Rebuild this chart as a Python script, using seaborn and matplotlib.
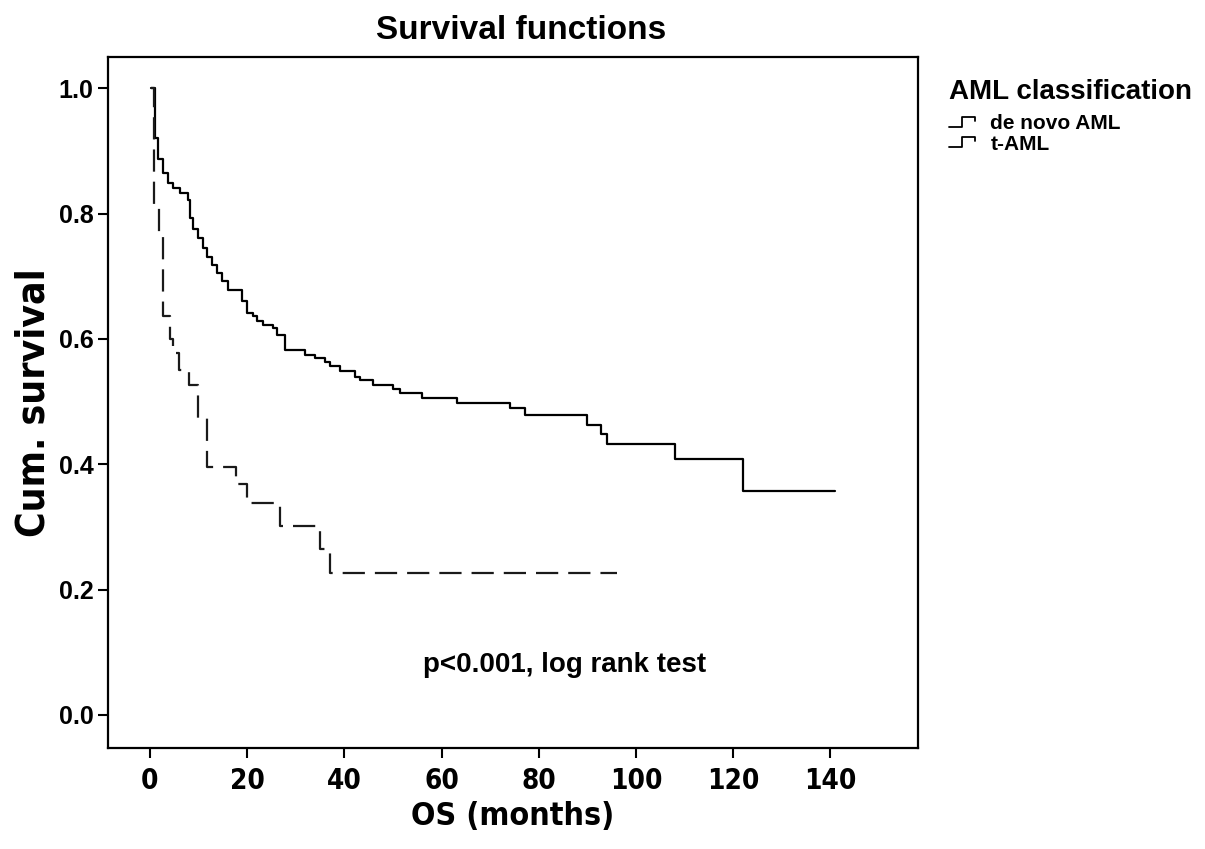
import numpy as np
import pandas as pd
import matplotlib
matplotlib.use("Agg")
import matplotlib.pyplot as plt
import seaborn as sns
from matplotlib.lines import Line2D
from matplotlib.legend_handler import HandlerBase
from matplotlib.font_manager import FontProperties

# ---- data ----
denovo_time = [0.3, 1.0, 1.7, 2.7, 3.8, 4.8, 6.2, 7.9, 8.2, 8.9, 9.9, 10.9, 11.7, 12.8,
               13.8, 14.8, 16.1, 18.9, 19.9, 21.2, 22.0, 23.3, 25.4, 26.1, 27.8, 31.9,
               34.0, 36.0, 37.0, 39.1, 42.2, 43.2, 46.0, 50.0, 51.4, 55.9, 63.1, 74.1,
               77.2, 89.9, 92.9, 94.0, 108.0, 122.1, 140.9]
denovo_surv = [1.0, 0.92, 0.887, 0.865, 0.849, 0.841, 0.833, 0.822, 0.793, 0.775, 0.761,
               0.745, 0.730, 0.718, 0.705, 0.693, 0.678, 0.660, 0.641, 0.636, 0.628, 0.622,
               0.617, 0.607, 0.582, 0.574, 0.569, 0.5625, 0.556, 0.549, 0.540, 0.534,
               0.527, 0.520, 0.513, 0.506, 0.498, 0.489, 0.478, 0.463, 0.449, 0.433,
               0.409, 0.357, 0.357]

taml_time = [0.3, 0.8, 1.9, 2.7, 4.1, 4.8, 6.0, 8.1, 9.9, 11.7, 17.8, 19.9, 26.7,
             35.0, 37.0, 96.0]
taml_surv = [1.0, 0.815, 0.769, 0.636, 0.600, 0.577, 0.550, 0.527, 0.473, 0.396,
             0.369, 0.338, 0.302, 0.264, 0.227, 0.227]

groups = ["de novo AML", "t-AML"]
x_ticks = [0, 20, 40, 60, 80, 100, 120, 140]
y_ticks = [0.0, 0.2, 0.4, 0.6, 0.8, 1.0]

df_denovo = pd.DataFrame({"OS": denovo_time, "surv": denovo_surv})
df_taml = pd.DataFrame({"OS": taml_time, "surv": taml_surv})

# ---- figure ----
sns.set_style("white")
plt.rcParams["font.family"] = ["Liberation Sans", "DejaVu Sans"]
for k in ["text.color", "axes.labelcolor", "xtick.color", "ytick.color"]:
    plt.rcParams[k] = "black"

fig = plt.figure(figsize=(12.05, 8.49), dpi=100)
ax = fig.add_axes([108 / 1205, 101 / 849, (918 - 108) / 1205, (792 - 101) / 849])

sns.lineplot(data=df_denovo, x="OS", y="surv", ax=ax, drawstyle="steps-post",
             color="black", linewidth=1.6, estimator=None, sort=False)
sns.lineplot(data=df_taml, x="OS", y="surv", ax=ax, drawstyle="steps-post",
             color="#1a1a1a", linewidth=1.6, estimator=None, sort=False)
ax.lines[1].set_dashes((10, 4.5))

ax.set_xlim(-8.6, 158)
ax.set_ylim(-0.053, 1.05)
ax.set_xticks(x_ticks)
ax.set_yticks(y_ticks)

narrow_tick = FontProperties(family="DejaVu Sans", stretch="condensed", weight="bold", size=20)
narrow_xlab = FontProperties(family="DejaVu Sans", stretch="condensed", weight="bold", size=23)
narrow_ylab = FontProperties(family="DejaVu Sans", stretch="condensed", weight="bold", size=28)

ax.set_yticklabels([f"{v:.1f}" for v in y_ticks], fontsize=18, fontweight="bold")
ax.set_xticklabels([str(v) for v in x_ticks], fontproperties=narrow_tick)
ax.tick_params(axis="both", direction="out", length=7, width=1.5, colors="black",
               left=True, bottom=True)
ax.tick_params(axis="x", pad=7)
for s in ax.spines.values():
    s.set_visible(True)
    s.set_color("black")
    s.set_linewidth(1.6)

ax.set_xlabel("OS (months)", fontproperties=narrow_xlab, labelpad=4)
ax.set_ylabel("Cum. survival", fontproperties=narrow_ylab, labelpad=4)
ax.set_title("Survival functions", fontsize=24, fontweight="bold", pad=13, x=0.51)

ax.text(85.4, 0.08, "p<0.001, log rank test", fontsize=20, fontweight="bold",
        ha="center", va="center")


class StepHandler(HandlerBase):
    def create_artists(self, legend, orig_handle, xdescent, ydescent, width, height,
                       fontsize, trans):
        h = height
        xs = [0, width * 0.4, width * 0.4, width * 0.8, width * 0.8]
        ys = [h * 0.15, h * 0.15, h * 0.85, h * 0.85, h * 0.55]
        ln = Line2D(np.array(xs) - xdescent, np.array(ys) - ydescent,
                    color="black", linewidth=1.3, transform=trans)
        return [ln]


h1 = Line2D([], [], color="black")
h2 = Line2D([], [], color="black")
leg = fig.legend([h1, h2], groups, loc="upper left",
                 bbox_to_anchor=(930 / 1205, 1 - 60 / 849), frameon=False,
                 title="AML classification", title_fontsize=20,
                 prop={"weight": "bold", "size": 15}, handlelength=1.6,
                 handletextpad=0.4, labelspacing=0.05,
                 handler_map={h1: StepHandler(), h2: StepHandler()})
leg.get_title().set_fontweight("bold")
leg._legend_box.align = "left"
leg._legend_box.sep = 7
# indent the entries under the title as in the reference
leg._legend_handle_box.get_children()[0].set_offset((0, 0))
leg._legend_handle_box.pad = 0

fig.savefig("out.png", dpi=100)
